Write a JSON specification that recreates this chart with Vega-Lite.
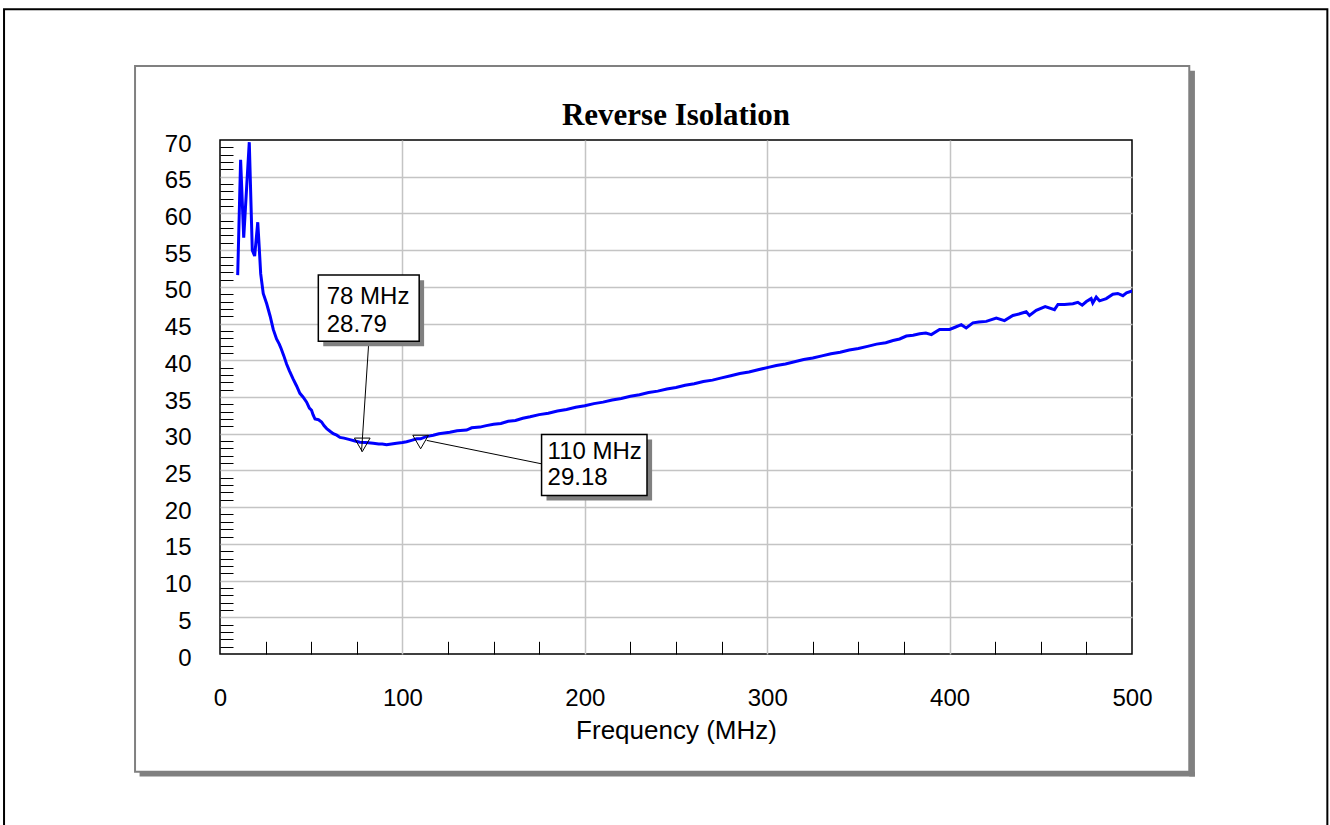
{
  "$schema": "https://vega.github.io/schema/vega-lite/v6.json",
  "width": 912,
  "height": 514,
  "autosize": {"type": "none"},
  "padding": {"left": 220, "top": 140, "right": 198, "bottom": 171},
  "background": "white",
  "config": {
    "view": {"stroke": "black", "strokeWidth": 1.5},
    "axis": {
      "labelFont": "Liberation Sans", "labelFontSize": 24, "labelColor": "black",
      "titleFont": "Liberation Sans", "titleFontSize": 26, "titleFontWeight": "normal", "titleColor": "black",
      "gridColor": "#c4c4c4", "gridWidth": 1.5, "tickColor": "black", "tickWidth": 1,
      "domain": false, "labelFlush": false, "labelOverlap": false
    }
  },
  "title": {
    "text": "Reverse Isolation", "font": "Liberation Serif", "fontSize": 31, "fontWeight": "bold",
    "color": "black", "anchor": "middle", "frame": "group", "baseline": "alphabetic", "offset": -148
  },
  "datasets": {
    "trace": [
      {"freq": 9.7, "db": 51.6}, {"freq": 11.3, "db": 67.3}, {"freq": 13.0, "db": 56.7}, {"freq": 16.05, "db": 69.7},
      {"freq": 17.7, "db": 55.0}, {"freq": 19.0, "db": 54.2}, {"freq": 20.7, "db": 58.8}, {"freq": 21.5, "db": 55.4},
      {"freq": 22.3, "db": 51.8}, {"freq": 23.7, "db": 49.1}, {"freq": 25.6, "db": 47.7}, {"freq": 27.5, "db": 46.0},
      {"freq": 29.2, "db": 44.2}, {"freq": 31.0, "db": 42.9}, {"freq": 32.5, "db": 42.2}, {"freq": 33.5, "db": 41.6},
      {"freq": 35.0, "db": 40.6}, {"freq": 36.5, "db": 39.5}, {"freq": 38.0, "db": 38.6}, {"freq": 40.0, "db": 37.5},
      {"freq": 42.0, "db": 36.5}, {"freq": 43.8, "db": 35.5}, {"freq": 45.5, "db": 35.0}, {"freq": 47.5, "db": 34.3},
      {"freq": 49.0, "db": 33.5}, {"freq": 50.2, "db": 33.2}, {"freq": 51.0, "db": 32.6}, {"freq": 52.1, "db": 32.0},
      {"freq": 54.0, "db": 31.9}, {"freq": 55.7, "db": 31.6}, {"freq": 57.0, "db": 31.1}, {"freq": 58.5, "db": 30.7},
      {"freq": 60.5, "db": 30.3}, {"freq": 62.1, "db": 30.0}, {"freq": 64.0, "db": 29.8}, {"freq": 65.8, "db": 29.5},
      {"freq": 68.0, "db": 29.4}, {"freq": 71.2, "db": 29.2}, {"freq": 74.0, "db": 29.0}, {"freq": 76.7, "db": 28.85},
      {"freq": 80.0, "db": 28.8}, {"freq": 84.0, "db": 28.7}, {"freq": 87.0, "db": 28.6}, {"freq": 89.0, "db": 28.6},
      {"freq": 91.3, "db": 28.5}, {"freq": 94.0, "db": 28.6}, {"freq": 96.8, "db": 28.7}, {"freq": 100.0, "db": 28.8},
      {"freq": 102.3, "db": 28.9}, {"freq": 105.0, "db": 29.1}, {"freq": 107.8, "db": 29.3}, {"freq": 110.0, "db": 29.3},
      {"freq": 113.0, "db": 29.6}, {"freq": 116.9, "db": 29.8}, {"freq": 120.0, "db": 30.0}, {"freq": 123.0, "db": 30.1},
      {"freq": 126.0, "db": 30.2}, {"freq": 130.0, "db": 30.4}, {"freq": 135.2, "db": 30.5}, {"freq": 138.0, "db": 30.8},
      {"freq": 142.5, "db": 30.9}, {"freq": 146.0, "db": 31.1}, {"freq": 150.0, "db": 31.3}, {"freq": 154.0, "db": 31.4},
      {"freq": 158.0, "db": 31.7}, {"freq": 162.0, "db": 31.8}, {"freq": 166.0, "db": 32.1}, {"freq": 170.0, "db": 32.3},
      {"freq": 175.0, "db": 32.6}, {"freq": 180.0, "db": 32.8}, {"freq": 185.0, "db": 33.1}, {"freq": 190.0, "db": 33.3},
      {"freq": 195.0, "db": 33.6}, {"freq": 200.0, "db": 33.8}, {"freq": 205.0, "db": 34.1}, {"freq": 210.0, "db": 34.3},
      {"freq": 215.0, "db": 34.6}, {"freq": 220.0, "db": 34.8}, {"freq": 225.0, "db": 35.1}, {"freq": 230.0, "db": 35.3},
      {"freq": 235.0, "db": 35.6}, {"freq": 240.0, "db": 35.8}, {"freq": 245.0, "db": 36.1}, {"freq": 250.0, "db": 36.3},
      {"freq": 255.0, "db": 36.6}, {"freq": 260.0, "db": 36.8}, {"freq": 265.0, "db": 37.1}, {"freq": 270.0, "db": 37.3},
      {"freq": 275.0, "db": 37.6}, {"freq": 280.0, "db": 37.9}, {"freq": 285.0, "db": 38.2}, {"freq": 290.0, "db": 38.4},
      {"freq": 295.0, "db": 38.7}, {"freq": 300.0, "db": 39.0}, {"freq": 305.0, "db": 39.3}, {"freq": 310.0, "db": 39.5},
      {"freq": 315.0, "db": 39.8}, {"freq": 320.0, "db": 40.1}, {"freq": 325.0, "db": 40.3}, {"freq": 330.0, "db": 40.6},
      {"freq": 335.0, "db": 40.9}, {"freq": 340.0, "db": 41.1}, {"freq": 345.0, "db": 41.4}, {"freq": 350.0, "db": 41.6},
      {"freq": 355.0, "db": 41.9}, {"freq": 360.0, "db": 42.2}, {"freq": 365.0, "db": 42.4}, {"freq": 369.0, "db": 42.7},
      {"freq": 372.6, "db": 42.9}, {"freq": 376.3, "db": 43.3}, {"freq": 380.0, "db": 43.4}, {"freq": 383.6, "db": 43.6},
      {"freq": 387.0, "db": 43.7}, {"freq": 390.0, "db": 43.5}, {"freq": 394.5, "db": 44.2}, {"freq": 400.0, "db": 44.2},
      {"freq": 403.0, "db": 44.5}, {"freq": 406.4, "db": 44.85}, {"freq": 409.1, "db": 44.4}, {"freq": 412.8, "db": 45.1},
      {"freq": 416.0, "db": 45.2}, {"freq": 420.1, "db": 45.3}, {"freq": 425.6, "db": 45.75}, {"freq": 430.1, "db": 45.4},
      {"freq": 434.7, "db": 46.1}, {"freq": 438.0, "db": 46.3}, {"freq": 442.0, "db": 46.6}, {"freq": 443.8, "db": 46.1},
      {"freq": 447.5, "db": 46.8}, {"freq": 452.4, "db": 47.3}, {"freq": 457.5, "db": 46.9}, {"freq": 459.4, "db": 47.6},
      {"freq": 463.0, "db": 47.6}, {"freq": 467.6, "db": 47.7}, {"freq": 470.3, "db": 47.9}, {"freq": 472.7, "db": 47.5},
      {"freq": 475.0, "db": 48.0}, {"freq": 477.6, "db": 48.4}, {"freq": 478.5, "db": 47.8}, {"freq": 480.4, "db": 48.6},
      {"freq": 482.2, "db": 48.1}, {"freq": 485.9, "db": 48.4}, {"freq": 489.5, "db": 49.0}, {"freq": 492.2, "db": 49.1},
      {"freq": 495.0, "db": 48.8}, {"freq": 497.0, "db": 49.2}, {"freq": 499.5, "db": 49.4}, {"freq": 500.0, "db": 49.4}
    ],
    "markers": [
      {"freq": 78, "db": 28.79, "label": "78 MHz\n28.79"},
      {"freq": 110, "db": 29.18, "label": "110 MHz\n29.18"}
    ]
  },
  "resolve": {"axis": {"x": "independent", "y": "independent"}},
  "layer": [
    {
      "data": {"values": [{"part": "outer frame"}]},
      "mark": {"type": "rect", "filled": false, "stroke": "black", "strokeWidth": 2, "clip": false},
      "encoding": {
        "x": {"datum": -118.4, "type": "quantitative", "axis": null}, "x2": {"datum": 607.1},
        "y": {"datum": 87.8, "type": "quantitative", "axis": null}, "y2": {"datum": -30}
      }
    },
    {
      "data": {"values": [{"part": "shadow right"}]},
      "mark": {"type": "rect", "fill": "#808080", "clip": false},
      "encoding": {
        "x": {"datum": 531.4, "type": "quantitative", "axis": null}, "x2": {"datum": 534.5},
        "y": {"datum": 79.43, "type": "quantitative", "axis": null}, "y2": {"datum": -16.69}
      }
    },
    {
      "data": {"values": [{"part": "shadow bottom"}]},
      "mark": {"type": "rect", "fill": "#808080", "clip": false},
      "encoding": {
        "x": {"datum": -44.1, "type": "quantitative", "axis": null}, "x2": {"datum": 534.5},
        "y": {"datum": -16.05, "type": "quantitative", "axis": null}, "y2": {"datum": -16.69}
      }
    },
    {
      "data": {"values": [{"part": "panel"}]},
      "mark": {"type": "rect", "filled": false, "stroke": "#808080", "strokeWidth": 2, "clip": false},
      "encoding": {
        "x": {"datum": -46.58, "type": "quantitative", "axis": null}, "x2": {"datum": 531.4},
        "y": {"datum": 80.07, "type": "quantitative", "axis": null}, "y2": {"datum": -16.05}
      }
    },
    {
      "data": {"name": "trace"},
      "mark": {"type": "line", "color": "#0000ff", "strokeWidth": 3, "clip": false},
      "encoding": {
        "x": {
          "field": "freq", "type": "quantitative",
          "scale": {"domain": [0, 500], "nice": false, "zero": false},
          "axis": {
            "orient": "bottom", "values": [0, 100, 200, 300, 400, 500], "grid": true, "ticks": false,
            "gridOpacity": {"condition": {"test": "datum.value == 0 || datum.value == 500", "value": 0}, "value": 1},
            "labelBaseline": "alphabetic", "labelPadding": 51.5,
            "title": "Frequency (MHz)", "titlePadding": 7
          }
        },
        "y": {
          "field": "db", "type": "quantitative",
          "scale": {"domain": [0, 70], "nice": false, "zero": false},
          "axis": {
            "orient": "left", "values": [0, 5, 10, 15, 20, 25, 30, 35, 40, 45, 50, 55, 60, 65, 70], "grid": true, "ticks": false,
            "gridOpacity": {"condition": {"test": "datum.value == 0 || datum.value == 70", "value": 0}, "value": 1},
            "labelBaseline": "alphabetic", "labelOffset": 11, "labelPadding": 29, "title": null
          }
        }
      }
    },
    {
      "data": {"name": "markers"},
      "mark": {"type": "point", "shape": "M-1,-0.577L1,-0.577L0,1.155Z", "filled": false, "stroke": "black", "strokeWidth": 1, "size": 246, "opacity": 1, "clip": false},
      "encoding": {
        "x": {
          "field": "freq", "type": "quantitative",
          "axis": {
            "orient": "bottom", "values": [25, 50, 75, 125, 150, 175, 225, 250, 275, 325, 350, 375, 425, 450, 475],
            "labels": false, "grid": false, "ticks": true, "tickSize": 12.7, "offset": -12.7, "title": null
          }
        },
        "y": {
          "field": "db", "type": "quantitative",
          "axis": {
            "orient": "left",
            "values": [1, 2, 3, 4, 6, 7, 8, 9, 11, 12, 13, 14, 16, 17, 18, 19, 21, 22, 23, 24, 26, 27, 28, 29, 31, 32, 33, 34, 36, 37, 38, 39, 41, 42, 43, 44, 46, 47, 48, 49, 51, 52, 53, 54, 56, 57, 58, 59, 61, 62, 63, 64, 66, 67, 68, 69],
            "labels": false, "grid": false, "ticks": true, "tickSize": 13, "offset": -13, "title": null
          }
        }
      }
    },
    {
      "data": {"values": [{"part": "leader 1"}]},
      "mark": {"type": "rule", "color": "black", "strokeWidth": 1, "clip": false},
      "encoding": {
        "x": {"datum": 81.6, "type": "quantitative", "axis": null}, "x2": {"datum": 77.6},
        "y": {"datum": 42.6, "type": "quantitative", "axis": null}, "y2": {"datum": 27.6}
      }
    },
    {
      "data": {"values": [{"part": "leader 2"}]},
      "mark": {"type": "rule", "color": "black", "strokeWidth": 1, "clip": false},
      "encoding": {
        "x": {"datum": 113.3, "type": "quantitative", "axis": null}, "x2": {"datum": 176.3},
        "y": {"datum": 29.09, "type": "quantitative", "axis": null}, "y2": {"datum": 25.9}
      }
    },
    {
      "data": {"values": [{"part": "box 1 shadow"}]},
      "mark": {"type": "rect", "fill": "#808080", "clip": false},
      "encoding": {
        "x": {"datum": 56.6, "type": "quantitative", "axis": null}, "x2": {"datum": 111.9},
        "y": {"datum": 50.9, "type": "quantitative", "axis": null}, "y2": {"datum": 41.9}
      }
    },
    {
      "data": {"values": [{"part": "box 1"}]},
      "mark": {"type": "rect", "fill": "white", "stroke": "black", "strokeWidth": 1.5, "clip": false},
      "encoding": {
        "x": {"datum": 53.9, "type": "quantitative", "axis": null}, "x2": {"datum": 109.2},
        "y": {"datum": 51.6, "type": "quantitative", "axis": null}, "y2": {"datum": 42.6}
      }
    },
    {
      "data": {"name": "markers"},
      "transform": [{"filter": "datum.freq == 78"}],
      "mark": {"type": "text", "font": "Liberation Sans", "fontSize": 24, "color": "black", "align": "left", "baseline": "alphabetic", "lineBreak": "\n", "lineHeight": 28, "clip": false},
      "encoding": {
        "x": {"datum": 58.5, "type": "quantitative", "axis": null},
        "y": {"datum": 47.72, "type": "quantitative", "axis": null},
        "text": {"field": "label", "type": "nominal"}
      }
    },
    {
      "data": {"values": [{"part": "box 2 shadow"}]},
      "mark": {"type": "rect", "fill": "#808080", "clip": false},
      "encoding": {
        "x": {"datum": 179.0, "type": "quantitative", "axis": null}, "x2": {"datum": 236.9},
        "y": {"datum": 29.2, "type": "quantitative", "axis": null}, "y2": {"datum": 20.9}
      }
    },
    {
      "data": {"values": [{"part": "box 2"}]},
      "mark": {"type": "rect", "fill": "white", "stroke": "black", "strokeWidth": 1.5, "clip": false},
      "encoding": {
        "x": {"datum": 176.3, "type": "quantitative", "axis": null}, "x2": {"datum": 234.1},
        "y": {"datum": 29.9, "type": "quantitative", "axis": null}, "y2": {"datum": 21.6}
      }
    },
    {
      "data": {"name": "markers"},
      "transform": [{"filter": "datum.freq == 110"}],
      "mark": {"type": "text", "font": "Liberation Sans", "fontSize": 24, "color": "black", "align": "left", "baseline": "alphabetic", "lineBreak": "\n", "lineHeight": 26, "clip": false},
      "encoding": {
        "x": {"datum": 179.6, "type": "quantitative", "axis": null},
        "y": {"datum": 26.5, "type": "quantitative", "axis": null},
        "text": {"field": "label", "type": "nominal"}
      }
    }
  ]
}
